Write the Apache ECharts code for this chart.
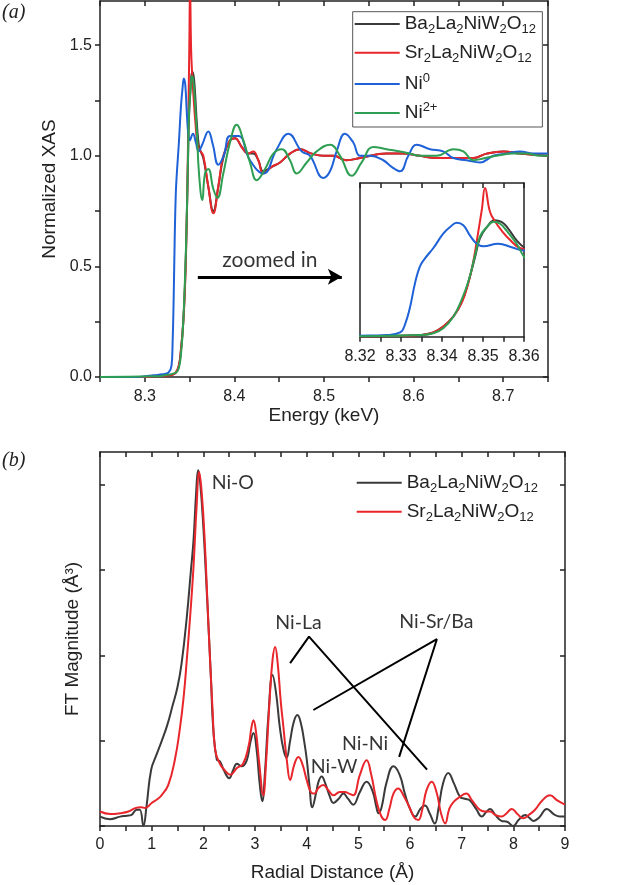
<!DOCTYPE html>
<html>
<head>
<meta charset="utf-8">
<script src="https://cdn.jsdelivr.net/npm/echarts@6/dist/echarts.min.js"></script>
<style>
html,body{margin:0;padding:0;background:#fff;}
#chart{width:640px;height:885px;}
</style>
</head>
<body>
<div id="chart"></div>
<script>
// ---------- DATA ----------
const seriesNames = ['Ba2La2NiW2O12', 'Sr2La2NiW2O12', 'Ni0', 'Ni2+'];

// (a) Normalized XAS, [energy keV, normalized absorption]
const xasBa = [[8.25,0],[8.30,0],[8.31,0.003],[8.32,0.005],[8.3306,0.01],[8.3346,0.02],[8.3379,0.05],[8.3403,0.12],[8.3428,0.24],[8.3448,0.41],[8.3464,0.64],[8.3481,0.95],[8.3493,1.17],[8.351,1.30],[8.3528,1.38],[8.3545,1.36],[8.356,1.29],[8.3582,1.14],[8.3605,1.04],[8.3623,1.02],[8.3653,0.99],[8.3709,0.86],[8.3765,0.75],[8.382,0.86],[8.3876,0.99],[8.3951,1.07],[8.4007,1.08],[8.4081,1.04],[8.4156,1.01],[8.4211,1.01],[8.4267,0.98],[8.4323,0.93],[8.4416,0.95],[8.4509,0.97],[8.462,1.01],[8.4732,1.03],[8.4863,1.01],[8.4992,1.00],[8.5104,1.00],[8.5253,0.98],[8.5402,0.99],[8.5699,1.01],[8.5885,1.01],[8.6071,1.00],[8.6257,0.99],[8.6443,0.99],[8.6667,0.99],[8.6815,1.01],[8.7002,1.02],[8.7188,1.01],[8.75,1.00]];
const xasSr = [[8.25,0],[8.30,0],[8.31,0.003],[8.32,0.005],[8.3306,0.01],[8.3346,0.02],[8.3379,0.05],[8.3403,0.12],[8.3428,0.24],[8.3448,0.40],[8.3464,0.63],[8.3477,0.91],[8.3489,1.26],[8.3497,1.50],[8.3505,1.76],[8.3517,1.48],[8.353,1.36],[8.3545,1.26],[8.3565,1.15],[8.359,1.05],[8.3623,1.02],[8.3653,1.00],[8.3709,0.86],[8.3765,0.74],[8.382,0.86],[8.3876,1.00],[8.3951,1.07],[8.4007,1.08],[8.4081,1.04],[8.4156,1.01],[8.4211,1.02],[8.4267,0.98],[8.4323,0.92],[8.4416,0.95],[8.4509,0.97],[8.462,1.01],[8.4732,1.03],[8.4863,1.01],[8.4992,1.00],[8.5104,1.00],[8.5253,0.98],[8.5402,0.99],[8.5699,1.01],[8.5885,1.01],[8.6071,1.00],[8.6257,0.99],[8.6443,0.99],[8.6667,0.99],[8.6815,1.01],[8.7002,1.02],[8.7188,1.01],[8.75,1.00]];
const xasNi0 = [[8.25,0],[8.29,0],[8.30,0.003],[8.31,0.008],[8.32,0.012],[8.3265,0.02],[8.3298,0.05],[8.331,0.15],[8.3322,0.35],[8.3334,0.63],[8.3346,0.83],[8.3359,0.93],[8.3379,1.05],[8.3403,1.22],[8.342,1.30],[8.3436,1.35],[8.3452,1.32],[8.3468,1.20],[8.3485,1.10],[8.3501,1.07],[8.3537,1.10],[8.357,1.06],[8.36,1.02],[8.364,1.05],[8.3709,1.11],[8.376,1.05],[8.382,0.96],[8.388,1.00],[8.3951,1.09],[8.4044,1.09],[8.4174,0.98],[8.4323,0.92],[8.4472,1.03],[8.4602,1.10],[8.4751,1.02],[8.4844,1.00],[8.4992,0.90],[8.5067,0.93],[8.5141,1.02],[8.5234,1.10],[8.5327,1.06],[8.5402,1.00],[8.5513,1.00],[8.5662,0.98],[8.5755,0.95],[8.5848,0.93],[8.5941,1.00],[8.6034,1.05],[8.6183,1.03],[8.6331,1.02],[8.6443,0.99],[8.6592,0.98],[8.6741,0.97],[8.689,1.00],[8.7039,1.01],[8.7188,1.02],[8.7336,1.01],[8.75,1.01]];
const xasNi2 = [[8.25,0],[8.31,0.003],[8.32,0.006],[8.3346,0.02],[8.3379,0.04],[8.3403,0.10],[8.3428,0.24],[8.3448,0.44],[8.3464,0.65],[8.3481,0.97],[8.3493,1.19],[8.351,1.30],[8.3526,1.36],[8.3541,1.34],[8.3557,1.26],[8.3582,1.10],[8.3605,0.92],[8.3642,0.80],[8.3672,0.92],[8.3709,0.94],[8.3765,0.85],[8.381,0.81],[8.3876,0.92],[8.3951,1.06],[8.4025,1.14],[8.41,1.07],[8.4174,0.97],[8.4249,0.89],[8.4342,0.94],[8.4434,1.01],[8.4528,1.03],[8.462,0.98],[8.4695,0.92],[8.4807,0.97],[8.4918,1.02],[8.5067,1.05],[8.5179,1.00],[8.5309,0.91],[8.542,0.97],[8.555,1.04],[8.57,1.03],[8.5848,1.02],[8.596,1.01],[8.6071,1.00],[8.6183,1.00],[8.6258,1.00],[8.6443,1.03],[8.6555,1.02],[8.6667,0.98],[8.68,0.99],[8.6926,1.00],[8.7113,1.01],[8.7262,1.01],[8.7411,1.00],[8.75,1.00]];

// (b) FT magnitude, [radial distance Å, magnitude]
const ftBa = [[0,0.11],[0.19,0.08],[0.39,0.11],[0.52,0.12],[0.61,0.13],[0.71,0.19],[0.77,0.19],[0.84,0.0],[0.90,0.23],[0.99,0.66],[1.09,0.83],[1.19,0.99],[1.30,1.18],[1.40,1.40],[1.50,1.63],[1.58,1.91],[1.68,2.45],[1.76,3.0],[1.81,3.35],[1.86,3.9],[1.90,4.17],[1.94,4.02],[2.0,3.51],[2.05,2.95],[2.1,2.34],[2.15,1.7],[2.19,1.16],[2.26,0.78],[2.32,0.76],[2.4,0.65],[2.5,0.56],[2.58,0.66],[2.65,0.73],[2.74,0.70],[2.84,0.77],[2.91,0.98],[2.97,1.09],[3.03,0.9],[3.09,0.5],[3.14,0.29],[3.19,0.6],[3.26,1.3],[3.34,1.77],[3.41,1.55],[3.48,1.16],[3.55,0.9],[3.61,0.80],[3.68,1.0],[3.75,1.22],[3.82,1.30],[3.89,1.2],[3.95,1.0],[4.0,0.79],[4.05,0.5],[4.11,0.22],[4.18,0.38],[4.23,0.52],[4.29,0.58],[4.36,0.5],[4.44,0.36],[4.52,0.27],[4.62,0.32],[4.71,0.38],[4.8,0.32],[4.90,0.25],[5.03,0.4],[5.16,0.52],[5.28,0.4],[5.35,0.22],[5.39,0.15],[5.45,0.22],[5.55,0.52],[5.68,0.70],[5.80,0.6],[5.90,0.38],[6.0,0.2],[6.10,0.11],[6.2,0.2],[6.29,0.24],[6.38,0.15],[6.48,0.03],[6.55,0.2],[6.64,0.5],[6.74,0.62],[6.85,0.5],[6.97,0.34],[7.06,0.32],[7.16,0.30],[7.28,0.2],[7.39,0.11],[7.47,0.16],[7.55,0.20],[7.65,0.13],[7.77,0.06],[7.88,0.05],[8.0,0.0],[8.1,0.07],[8.23,0.13],[8.32,0.09],[8.39,0.06],[8.5,0.1],[8.65,0.20],[8.78,0.14],[8.9,0.11],[9.0,0.11]];
const ftSr = [[0,0.17],[0.2,0.14],[0.39,0.15],[0.55,0.17],[0.68,0.21],[0.8,0.22],[0.87,0.21],[1.0,0.27],[1.1,0.31],[1.19,0.36],[1.32,0.48],[1.45,0.78],[1.55,1.16],[1.62,1.52],[1.68,1.95],[1.75,2.5],[1.81,3.04],[1.87,3.75],[1.92,4.15],[1.97,3.9],[2.03,3.31],[2.08,2.62],[2.13,1.95],[2.18,1.35],[2.23,0.89],[2.32,0.73],[2.42,0.65],[2.52,0.60],[2.65,0.68],[2.77,0.73],[2.88,0.95],[2.93,1.15],[2.97,1.24],[3.02,1.1],[3.08,0.75],[3.16,0.36],[3.21,0.7],[3.28,1.45],[3.34,1.95],[3.39,2.10],[3.44,1.9],[3.5,1.45],[3.55,1.16],[3.62,0.75],[3.68,0.54],[3.76,0.72],[3.84,0.81],[3.92,0.72],[4.0,0.54],[4.08,0.4],[4.15,0.38],[4.22,0.44],[4.32,0.48],[4.42,0.42],[4.52,0.36],[4.64,0.40],[4.74,0.40],[4.82,0.38],[4.90,0.36],[5.03,0.6],[5.16,0.77],[5.25,0.6],[5.35,0.30],[5.44,0.12],[5.52,0.07],[5.6,0.2],[5.68,0.38],[5.77,0.44],[5.88,0.35],[5.99,0.22],[6.08,0.1],[6.16,0.07],[6.24,0.2],[6.32,0.42],[6.42,0.52],[6.52,0.38],[6.6,0.15],[6.68,0.03],[6.76,0.2],[6.84,0.28],[6.96,0.34],[7.09,0.38],[7.2,0.3],[7.35,0.19],[7.45,0.17],[7.55,0.17],[7.65,0.13],[7.77,0.11],[7.87,0.15],[7.97,0.20],[8.08,0.14],[8.19,0.09],[8.3,0.13],[8.42,0.19],[8.56,0.3],[8.71,0.36],[8.85,0.3],[9.0,0.25]];

// annotations of (b): leader lines and labels
const leaderNiLa = [[3.68,1.91],[4.045,2.22],[6.33,0.66]];
const leaderNiSrBa = [[4.13,1.36],[6.52,2.19],[5.79,0.81]];
const ftLabels = [
  {name:'Ni-O', value:[2.57,4.02]},
  {name:'Ni-La', value:[3.84,2.38]},
  {name:'Ni-Sr/Ba', value:[6.51,2.40]},
  {name:'Ni-Ni', value:[5.13,0.97]},
  {name:'Ni-W', value:[4.53,0.70]}
];
// annotation of (a)
const zoomLabel = {name:'zoomed in', value:[8.4396,0.529]};
const zoomArrow = [[8.3592,0.453],[8.5199,0.453]];

// ticks
const xasXLabels = [8.3,8.4,8.5,8.6,8.7];
const xasXTicks = [8.25,8.3,8.35,8.4,8.45,8.5,8.55,8.6,8.65,8.7,8.75];
const xasYLabels = [0,0.5,1.0,1.5];
const xasYTicks = [0,0.25,0.5,0.75,1.0,1.25,1.5];
const insetXLabels = [8.32,8.33,8.34,8.35,8.36];
const insetXTicks = [8.32,8.325,8.33,8.335,8.34,8.345,8.35,8.355,8.36];
const ftXLabels = [0,1,2,3,4,5,6,7,8,9];
const ftXTicks = [0,0.5,1,1.5,2,2.5,3,3.5,4,4.5,5,5.5,6,6.5,7,7.5,8,8.5,9];
const ftYTicks = [0,1,2,3,4];

// ---------- STYLE ----------
const colors = {'Ba2La2NiW2O12':'#3a3a3a','Sr2La2NiW2O12':'#e8262b','Ni0':'#1f62d8','Ni2+':'#2e9f52'};
const AX = '#222';
const FONT = 'Liberation Sans, Arial, sans-serif';
const ANN_FONT = 'Lato, "Open Sans", sans-serif';

function legendFmt(name){
  if (name === 'Ni0') return '{n|Ni}{p|0}';
  if (name === 'Ni2+') return '{n|Ni}{p|2+}';
  return name.replace(/([A-Za-z]+)|(\d+)/g, (m, a, d) => a ? '{n|' + a + '}' : '{s|' + d + '}');
}
const legendRich = {
  n:{fontSize:19, fontFamily:FONT, color:'#222', lineHeight:24, verticalAlign:'middle'},
  s:{fontSize:13, fontFamily:FONT, color:'#222', lineHeight:13, verticalAlign:'bottom'},
  p:{fontSize:13, fontFamily:FONT, color:'#222', lineHeight:13, verticalAlign:'top'}
};

function xAxisCfg(grid, min, max, pos, ticks, inside, labels, fmt, name, nameGap, labelMargin){
  return {
    type:'value', gridIndex:grid, min:min, max:max, position:pos,
    axisLine:{show:true, onZero:false, lineStyle:{color:AX, width:1.5}},
    axisTick:{show:true, inside:inside, length:5, customValues:ticks, lineStyle:{color:AX, width:1.5}},
    axisLabel: labels ? {show:true, customValues:labels, formatter:fmt, fontSize:16, fontFamily:FONT, color:'#222', margin:labelMargin} : {show:false},
    splitLine:{show:false},
    name:name||'', nameLocation:'middle', nameGap:nameGap||0,
    nameTextStyle:{fontSize:19, fontFamily:FONT, color:'#222'}
  };
}
function yAxisCfg(grid, min, max, pos, ticks, inside, labels, fmt, name, nameGap){
  return {
    type:'value', gridIndex:grid, min:min, max:max, position:pos,
    axisLine:{show:true, onZero:false, lineStyle:{color:AX, width:1.5}},
    axisTick: ticks ? {show:true, inside:inside, length:5, customValues:ticks, lineStyle:{color:AX, width:1.5}} : {show:false},
    axisLabel: labels ? {show:true, customValues:labels, formatter:fmt, fontSize:16, fontFamily:FONT, color:'#222', margin:8} : {show:false},
    splitLine:{show:false},
    name:name||'', nameLocation:'middle', nameGap:nameGap||0,
    nameTextStyle:{fontSize:19, fontFamily:FONT, color:'#222'}
  };
}
const f1 = v => v.toFixed(1);
const f2 = v => v.toFixed(2);
const f0 = v => String(Math.round(v));

function lineSeries(name, data, xi, yi){
  return {type:'line', name:name, data:data, xAxisIndex:xi, yAxisIndex:yi, symbol:'none', showSymbol:false,
    smooth:0.45, clip:true,
    lineStyle:{color:colors[name], width:2}, itemStyle:{color:colors[name]}, animation:false};
}

const option = {
  animation:false,
  backgroundColor:'#fff',
  grid:[
    {left:100, top:1, width:448, height:376},
    {left:360, top:183, width:164, height:153.7, show:true, backgroundColor:'#fff', borderWidth:0},
    {left:100, top:452, width:465, height:374}
  ],
  xAxis:[
    xAxisCfg(0, 8.25, 8.75, 'bottom', xasXTicks, false, xasXLabels, f1, 'Energy (keV)', 27, 12),
    xAxisCfg(0, 8.25, 8.75, 'top', xasXTicks, true, null),
    xAxisCfg(1, 8.32, 8.36, 'bottom', insetXTicks, false, insetXLabels, f2, '', 0, 12),
    xAxisCfg(1, 8.32, 8.36, 'top', insetXTicks, true, null),
    xAxisCfg(2, 0, 9, 'bottom', ftXTicks, false, ftXLabels, f0, 'Radial Distance (Å)', 37, 11),
    xAxisCfg(2, 0, 9, 'top', ftXTicks, true, null)
  ],
  yAxis:[
    yAxisCfg(0, 0, 1.7, 'left', xasYTicks, false, xasYLabels, f1, 'Normalized XAS', 41),
    yAxisCfg(0, 0, 1.7, 'right', xasYTicks, true, null),
    yAxisCfg(1, 0, 1.82, 'left', null, false, null),
    yAxisCfg(1, 0, 1.82, 'right', null, false, null),
    yAxisCfg(2, 0, 4.385, 'left', ftYTicks, true, null, null, 'FT Magnitude (Å³)', 18),
    yAxisCfg(2, 0, 4.385, 'right', ftYTicks, true, null)
  ],
  legend:[
    {data:seriesNames, orient:'vertical', left:352.7, top:11.7, icon:'rect', itemWidth:45, itemHeight:2, itemGap:7.3,
     padding:[2.8,6.5,4.6,2], borderColor:'#555', borderWidth:1, backgroundColor:'#fff',
     formatter:legendFmt, textStyle:{rich:legendRich}, selectedMode:false},
    {data:seriesNames.slice(0,2), orient:'vertical', left:354.7, top:473.2, icon:'rect', itemWidth:45, itemHeight:2, itemGap:7.6,
     padding:[0,2,0,2], formatter:legendFmt, textStyle:{rich:legendRich}, selectedMode:false}
  ],
  graphic:[
    {type:'text', left:2, top:3, style:{text:'(a)', font:'italic 20px "Liberation Serif", serif', fill:'#222'}},
    {type:'text', left:2, top:451, style:{text:'(b)', font:'italic 20px "Liberation Serif", serif', fill:'#222'}}
  ],
  series:[
    lineSeries(seriesNames[0], xasBa, 0, 0),
    lineSeries(seriesNames[1], xasSr, 0, 0),
    lineSeries(seriesNames[2], xasNi0, 0, 0),
    lineSeries(seriesNames[3], xasNi2, 0, 0),
    lineSeries(seriesNames[0], xasBa, 2, 2),
    lineSeries(seriesNames[1], xasSr, 2, 2),
    lineSeries(seriesNames[2], xasNi0, 2, 2),
    lineSeries(seriesNames[3], xasNi2, 2, 2),
    lineSeries(seriesNames[0], ftBa, 4, 4),
    lineSeries(seriesNames[1], ftSr, 4, 4),
    {type:'line', name:'leaderLa', data:leaderNiLa, xAxisIndex:4, yAxisIndex:4, symbol:'none', smooth:false,
     lineStyle:{color:'#000', width:2}, animation:false, z:5},
    {type:'line', name:'leaderSrBa', data:leaderNiSrBa, xAxisIndex:4, yAxisIndex:4, symbol:'none', smooth:false,
     lineStyle:{color:'#000', width:2}, animation:false, z:5},
    {type:'scatter', name:'ftLabels', data:ftLabels, xAxisIndex:4, yAxisIndex:4, symbolSize:0, animation:false, z:6,
     label:{show:true, position:'inside', formatter:'{b}', fontSize:19.5, fontFamily:ANN_FONT, color:'#000'}},
    {type:'scatter', name:'zoomLabel', data:[zoomLabel], xAxisIndex:0, yAxisIndex:0, symbolSize:0, animation:false, z:6,
     label:{show:true, position:'inside', formatter:'{b}', fontSize:21, fontFamily:ANN_FONT, color:'#000'},
     markLine:{silent:true, animation:false, symbol:['none','arrow'], symbolSize:[12,14], label:{show:false},
       lineStyle:{color:'#000', width:3, type:'solid'},
       data:[[{coord:zoomArrow[0]},{coord:zoomArrow[1]}]]}}
  ]
};

const chart = echarts.init(document.getElementById('chart'), null, {renderer:'canvas'});
chart.setOption(option);
</script>
</body>
</html>
